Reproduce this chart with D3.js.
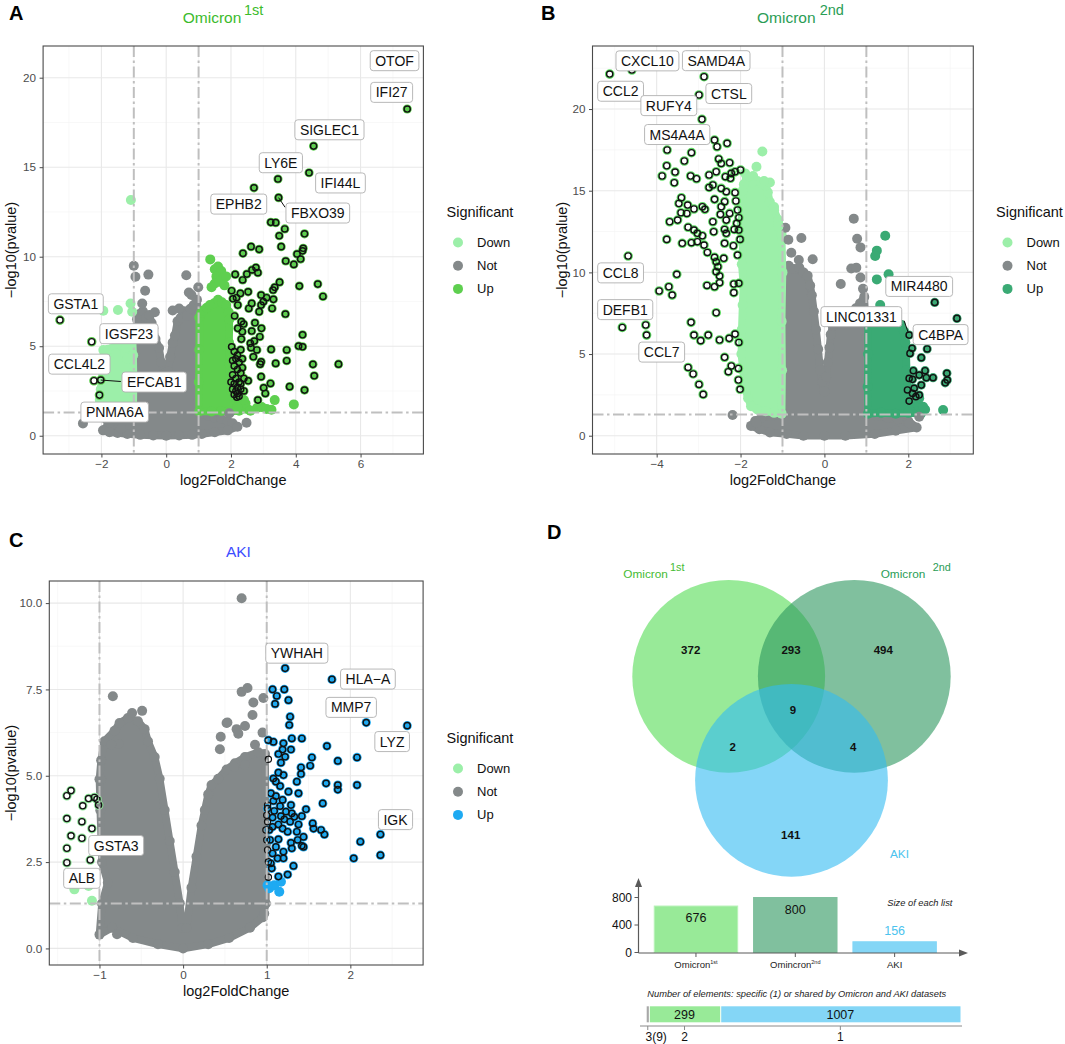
<!DOCTYPE html>
<html>
<head>
<meta charset="utf-8">
<script src="https://cdn.jsdelivr.net/npm/d3@7"></script>
<style>
  body { margin: 0; background: #fff; }
  svg { font-family: "Liberation Sans", Arial, Helvetica, sans-serif; }
</style>
</head>
<body>
<svg id="fig" width="1065" height="1044"></svg>
<script>
// ---------- data ----------
// volcano A (Omicron 1st): dense clouds given as outlines of the point centres
const aNotCloud = [[-1.95,0.3],[-1.75,0.7],[-1.6,0.95],[-1.35,1.0],[-1.2,1.15],[-1.0,1.3],[-0.98,2.4],[-0.99,3.5],[-0.96,4.6],[-0.95,5.5],[-0.9,6.5],[-0.82,6.8],[-0.72,6.95],[-0.62,6.6],[-0.52,6.75],[-0.45,6.3],[-0.4,6.0],[-0.33,5.4],[-0.22,4.9],[-0.15,4.1],[-0.05,3.5],[0.05,3.6],[0.12,4.4],[0.2,5.2],[0.27,5.6],[0.35,6.4],[0.45,6.6],[0.55,6.95],[0.65,6.7],[0.75,7.1],[0.85,7.3],[0.95,7.6],[1.0,6.5],[0.99,4.5],[1.0,2.0],[1.05,1.2],[1.3,1.1],[1.5,1.0],[1.7,0.95],[1.9,0.8],[2.05,0.7],[2.2,0.5],[1.9,0.3],[1.5,0.2],[1.1,0.1],[0.8,0.05],[0.4,0.02],[0,0],[-0.4,0.02],[-0.8,0.05],[-1.2,0.1],[-1.5,0.15],[-1.75,0.2]];
const aDownCloud = [[-2.0,1.4],[-2.05,2.0],[-2.02,2.6],[-1.97,3.6],[-1.94,4.2],[-1.9,4.6],[-1.8,4.8],[-1.7,4.85],[-1.58,4.95],[-1.45,5.1],[-1.35,5.35],[-1.25,5.5],[-1.15,5.55],[-1.05,5.7],[-1.02,4.5],[-1.01,3.0],[-1.02,1.35],[-1.25,1.4],[-1.5,1.35],[-1.75,1.4]];
const aUpCloud = [[1.02,1.35],[1.01,3.0],[1.02,4.8],[1.02,6.6],[1.08,6.85],[1.15,7.0],[1.25,7.15],[1.35,7.3],[1.48,7.4],[1.6,7.6],[1.72,7.45],[1.85,7.3],[1.93,6.9],[1.95,6.5],[1.94,5.2],[1.95,4.0],[1.97,3.2],[2.0,2.5],[2.15,2.1],[2.3,1.8],[2.5,1.5],[2.25,1.4],[2.0,1.35],[1.7,1.38],[1.4,1.35]];
const aNotPts = [[-1.0,9.5],[-0.95,8.88],[-0.55,9.0],[0.62,8.96],[-0.65,8.1],[-0.74,7.39],[0.78,7.86],[0.99,8.29],[0.40,7.11],[-2.57,0.69],[2.48,0.73],[1.95,1.25],[-1.4,0.41],[-1.83,0.88],[0.7,8.0],[-0.35,6.9],[0.2,7.0]];
const aDownPts = [[-1.09,13.17],[-1.49,7.02],[-1.94,6.98],[-1.1,7.39],[-1.05,6.93],[-1.94,4.79],[-1.55,4.6],[-1.25,4.9],[-1.2,4.3]];
const aUpPts = [[1.36,9.85],[1.5,9.3],[1.6,9.45],[1.7,9.2],[1.55,8.9],[1.75,8.8],[1.5,8.5],[1.65,8.6],[1.85,8.9],[1.4,8.3],[1.8,8.4],[2.45,1.8],[2.8,1.55],[2.95,1.6],[3.1,1.5],[3.25,1.45],[3.35,1.99],[3.94,1.75],[2.6,1.4],[2.2,1.6],[2.4,2.0]];
const aUpRing = [[7.44,18.25],[4.55,16.18],[4.41,14.69],[3.45,14.34],[2.71,13.85],[3.47,13.30],[3.23,11.92],[3.38,11.9],[3.66,11.55],[4.27,11.28],[3.49,11.17],[3.55,10.56],[4.23,10.47],[4.21,10.33],[2.62,10.56],[2.87,10.41],[2.37,10.19],[4.04,10.15],[4.15,9.87],[3.69,9.76],[3.94,9.57],[2.77,9.39],[2.65,9.26],[2.83,9.11],[2.49,9.03],[2.13,9.01],[2.36,8.70],[3.50,8.58],[3.35,8.29],[3.30,8.14],[4.11,8.36],[4.68,8.47],[4.84,7.78],[2.02,8.10],[2.53,8.04],[2.29,7.95],[2.17,7.71],[2.93,7.86],[3.10,7.71],[3.00,7.49],[2.06,7.65],[2.21,7.30],[3.31,7.62],[3.27,7.11],[2.64,7.39],[2.55,7.11],[2.93,7.30],[2.87,6.93],[3.68,6.80],[2.11,6.69],[2.32,6.37],[2.39,6.24],[2.74,6.31],[2.21,6.00],[2.35,5.81],[2.64,5.85],[2.94,6.00],[4.21,5.64],[2.32,5.40],[2.72,5.29],[2.89,5.53],[2.02,4.97],[2.60,5.16],[2.62,4.92],[2.80,4.79],[4.09,5.01],[4.21,4.97],[3.24,4.82],[3.72,4.79],[3.72,4.19],[2.69,4.41],[2.93,4.13],[2.90,4.00],[3.38,4.04],[4.53,3.99],[5.32,4.00],[4.57,3.35],[2.93,3.30],[2.53,3.07],[3.22,2.92],[3.01,2.68],[3.06,2.36],[2.83,1.99],[3.81,2.74],[4.27,2.55],
  [2.1,4.7],[2.2,4.5],[2.15,4.3],[2.25,4.1],[2.1,3.9],[2.2,3.7],[2.3,3.5],[2.05,3.4],[2.15,3.2],[2.25,3.0],[2.1,2.9],[2.2,2.7],[2.3,2.6],[2.15,2.5],[2.05,2.6],[2.2,2.35],[2.25,2.2],[2.1,2.3],[2.3,4.8],[2.35,4.3],[2.35,3.8],[2.4,3.2],[2.0,3.0],[2.05,4.2],[2.3,2.9],[2.4,2.5],[2.18,2.15]];
const aDownRing = [[-3.28,6.46],[-2.30,5.25],[-2.23,3.07],[-2.02,3.11],[-2.06,2.27]];
const aLabels = [["OTOF",7.05,20.95],["IFI27",6.96,19.18],["SIGLEC1",5.04,17.09],["LY6E",3.54,15.25],["IFI44L",5.38,14.12],["EPHB2",2.24,12.94],["FBXO39",4.68,12.44],["GSTA1",-2.79,7.37],["IGSF23",-1.15,5.70],["CCL4L2",-2.68,4.0],["EFCAB1",-0.37,3.0],["PNMA6A",-1.59,1.32]];
const aLeaders = [[[3.47,13.3],[3.67,12.76]],[[-2.02,3.11],[-1.40,3.03]]];

// volcano B (Omicron 2nd)
const bNotCloud = [[-1.0,1.3],[-1.01,4.0],[-0.99,7.0],[-1.0,10.2],[-0.93,10.35],[-0.85,10.4],[-0.72,10.2],[-0.6,10.3],[-0.5,10.0],[-0.4,9.8],[-0.34,9.2],[-0.3,8.6],[-0.25,7.6],[-0.2,6.5],[-0.15,5.3],[-0.1,4.0],[-0.05,3.3],[0.0,2.7],[0.04,3.6],[0.08,4.5],[0.12,5.4],[0.15,6.2],[0.2,6.7],[0.25,7.0],[0.38,7.2],[0.5,7.3],[0.62,7.5],[0.75,7.8],[0.85,8.1],[0.95,8.5],[1.0,6.0],[0.99,3.5],[1.0,1.3],[1.25,1.2],[1.5,1.1],[1.75,1.0],[2.0,0.9],[2.2,0.5],[1.7,0.3],[1.2,0.1],[0.5,0],[0,0],[-0.5,0],[-0.9,0.1],[-1.3,0.2],[-1.55,0.4],[-1.75,0.6],[-1.65,0.9],[-1.5,1.1],[-1.25,1.2]];
const bDownCloud = [[-1.02,1.35],[-1.01,4.0],[-1.02,7.0],[-1.0,10.0],[-1.02,12.3],[-1.06,12.8],[-1.1,13.2],[-1.2,13.8],[-1.3,14.3],[-1.35,14.9],[-1.4,15.3],[-1.5,15.45],[-1.6,15.6],[-1.72,15.5],[-1.85,15.8],[-1.92,15.4],[-1.95,15.0],[-1.97,14.0],[-1.97,13.0],[-1.94,11.8],[-1.97,10.5],[-1.93,9.2],[-1.95,8.0],[-1.97,6.5],[-1.98,5.0],[-1.94,4.0],[-1.9,3.0],[-1.82,2.3],[-1.75,1.8],[-1.6,1.6],[-1.4,1.5],[-1.2,1.4]];
const bUpCloud = [[1.04,1.35],[1.03,3.0],[1.04,5.0],[1.04,6.9],[1.12,7.1],[1.2,7.3],[1.32,7.4],[1.45,7.5],[1.58,7.3],[1.7,7.1],[1.82,6.8],[1.9,6.4],[1.93,5.7],[1.95,5.0],[1.96,4.0],[1.98,3.0],[2.03,2.5],[2.1,2.0],[2.25,1.8],[2.4,1.6],[2.3,1.35],[2.0,1.4],[1.7,1.35],[1.35,1.4]];
const bNotPts = [[-2.19,1.27],[-1.62,0.76],[-0.93,12.73],[-0.86,12.0],[-0.55,12.1],[-0.79,11.2],[-0.61,10.76],[-0.28,10.8],[0.70,13.29],[0.78,12.06],[0.86,11.53],[0.64,10.24],[0.76,10.29],[0.86,9.69],[0.39,9.29],[0.92,9.0],[2.02,0.76],[2.26,1.16]];
const bDownPts = [[-1.48,17.4],[-1.62,16.47],[-1.89,16.06],[-1.3,15.5],[-1.44,15.6],[-1.7,15.9],[-1.2,14.0],[-1.1,12.8]];
const bUpPts = [[1.45,12.24],[1.25,11.33],[1.21,11.0],[1.53,9.88],[1.25,9.57],[1.33,8.0],[2.83,1.57],[2.35,1.78],[2.26,2.29]];
const bDownRing = [[-5.12,22.14],[-4.59,22.39],[-2.87,21.98],[-2.99,20.86],[-2.92,19.37],[-2.62,18.1],[-2.56,17.69],[-2.32,17.9],[-3.75,17.49],[-3.17,17.33],[-3.34,16.82],[-3.76,16.53],[-3.56,16.14],[-3.87,15.9],[-3.19,15.9],[-3.05,15.73],[-3.58,15.49],[-2.52,16.94],[-2.46,16.67],[-2.26,16.71],[-2.58,16.16],[-2.75,15.96],[-2.36,15.86],[-2.22,16.06],[-2.13,16.16],[-2.0,16.27],[-2.24,15.76],[-2.66,15.35],[-2.75,15.2],[-2.46,15.14],[-2.34,14.94],[-2.13,14.88],[-3.41,14.57],[-3.47,14.22],[-3.26,14.12],[-2.62,14.47],[-2.38,14.33],[-2.11,14.37],[-2.07,13.82],[-3.11,13.88],[-2.91,14.02],[-2.85,13.86],[-3.42,13.65],[-2.46,14.02],[-2.26,13.61],[-2.04,13.35],[-3.28,13.61],[-2.48,13.55],[-3.69,13.1],[-3.5,13.2],[-2.66,13.1],[-2.34,13.2],[-2.09,13.0],[-3.25,12.76],[-3.11,12.59],[-3.03,12.39],[-2.91,12.24],[-2.64,12.49],[-2.38,12.63],[-2.34,12.39],[-2.15,12.63],[-2.04,12.59],[-3.76,12.02],[-3.39,11.78],[-3.17,11.82],[-3.03,11.88],[-2.87,11.67],[-2.38,11.78],[-2.17,11.63],[-2.01,12.02],[-2.79,11.22],[-2.62,10.92],[-2.58,10.65],[-2.40,10.86],[-2.07,11.06],[-2.54,10.35],[-2.58,10.04],[-2.5,9.78],[-2.80,9.2],[-2.62,9.12],[-2.50,9.37],[-2.16,9.29],[-2.04,9.33],[-2.16,8.76],[-4.68,11.0],[-3.52,9.88],[-3.94,8.86],[-3.71,9.12],[-3.63,8.61],[-2.58,7.53],[-4.82,6.63],[-4.26,6.78],[-4.24,6.16],[-3.18,6.94],[-3.11,6.16],[-2.95,5.82],[-2.77,6.16],[-2.50,5.86],[-2.27,5.96],[-2.13,6.22],[-2.04,5.71],[-2.38,4.8],[-2.22,4.27],[-2.05,4.12],[-2.29,3.92],[-3.25,4.18],[-3.13,3.78],[-2.99,3.14],[-2.89,2.53],[-2.05,3.41],[-2.01,2.84]];
const bUpRing = [[2.02,6.16],[2.63,8.16],[3.16,7.18],[2.09,5.35],[2.45,5.31],[2.31,4.78],[2.04,5.04],[2.12,3.98],[2.40,3.98],[2.02,3.51],[2.10,3.45],[2.26,3.71],[2.43,3.55],[2.59,3.55],[2.92,3.82],[2.88,3.24],[2.93,3.41],[2.31,3.10],[1.98,2.80],[2.14,2.90],[2.26,2.49],[2.18,2.39],[2.02,2.12],[2.10,2.59]];
const bLabels = [["CXCL10",-4.22,22.95],["SAMD4A",-2.58,22.96],["CCL2",-4.86,21.09],["RUFY4",-3.71,20.21],["CTSL",-2.28,20.95],["MS4A4A",-3.51,18.44],["CCL8",-4.86,9.97],["DEFB1",-4.75,7.72],["CCL7",-3.88,5.12],["MIR4480",2.26,9.14],["LINC01331",0.88,7.29],["C4BPA",2.77,6.19]];
const bLeaders = [[[1.90,7.04],[2.0,6.3]]];

// volcano C (AKI)
const cNotCloud = [[-1.0,0.4],[-0.97,1.3],[-0.9,1.9],[-0.97,2.5],[-0.99,4.0],[-1.0,4.9],[-0.98,5.45],[-0.94,6.0],[-0.82,6.3],[-0.76,6.53],[-0.66,6.67],[-0.54,6.58],[-0.46,6.35],[-0.42,6.0],[-0.34,5.54],[-0.28,4.91],[-0.22,4.01],[-0.16,3.11],[-0.10,2.21],[-0.04,1.31],[-0.01,0.59],[0.04,0.59],[0.10,1.76],[0.16,2.66],[0.22,3.56],[0.26,4.01],[0.30,4.46],[0.34,4.73],[0.42,4.91],[0.52,5.18],[0.62,5.36],[0.74,5.54],[0.90,5.68],[0.98,5.63],[0.99,3.0],[0.99,1.3],[0.95,0.9],[0.8,0.6],[0.55,0.3],[0.3,0.12],[0,0],[-0.3,0.12],[-0.6,0.3],[-0.85,0.6]];
const cNotPts = [[0.70,10.14],[0.70,7.43],[0.77,7.54],[0.84,7.12],[0.96,7.25],[0.83,6.76],[0.52,6.53],[0.64,6.35],[0.66,6.22],[0.74,6.44],[0.86,5.9],[0.44,5.77],[0.53,6.54],[0.45,6.13],[0.95,6.25],[0.61,5.26],[0.74,5.31],[-0.84,7.3],[-0.61,6.82],[-0.49,6.88],[-0.77,5.92],[-0.86,5.9],[-0.79,0.41],[0.97,1.01],[-0.98,4.9]];
const cDownPts = [[-1.30,1.71],[-1.13,1.81],[-1.09,1.38]];
const cUpPts = [[1.03,1.74],[1.09,1.83],[1.15,1.64],[1.17,1.93],[1.01,1.83]];
const cUpRing = [[1.22,8.11],[1.78,7.79],[1.07,7.5],[1.21,7.5],[1.12,7.31],[1.26,7.19],[1.10,7.08],[1.28,6.71],[1.27,6.47],[2.19,6.54],[2.68,6.45],[1.02,6.03],[1.08,5.98],[1.42,6.08],[1.20,5.94],[1.30,6.08],[1.72,5.86],[1.29,5.76],[1.19,5.76],[1.14,5.63],[1.22,5.55],[1.54,5.53],[2.08,5.53],[1.85,5.43],[1.17,5.38],[1.52,5.29],[1.41,5.24],[1.14,5.09],[1.20,5.02],[1.41,5.05],[1.08,4.92],[1.36,4.83],[1.11,4.83],[1.71,4.78],[1.85,4.73],[2.08,4.73],[1.85,4.6],[1.16,4.7],[1.26,4.54],[1.38,4.49],[1.05,4.49],[1.11,4.41],[1.19,4.30],[1.08,4.27],[1.67,4.20],[1.29,4.15],[1.16,4.12],[1.47,4.03],[1.01,4.05],[1.09,3.98],[1.23,3.96],[1.30,3.91],[1.42,3.83],[1.17,3.83],[1.07,3.79],[1.33,3.81],[1.21,3.74],[1.28,3.67],[1.55,3.62],[1.38,3.59],[1.14,3.59],[1.07,3.52],[1.19,3.47],[1.56,3.47],[1.69,3.30],[2.36,3.30],[1.36,3.38],[1.25,3.38],[1.03,3.43],[1.65,3.43],[1.44,3.23],[1.14,3.16],[1.04,3.14],[1.37,3.14],[2.12,3.09],[1.29,3.06],[1.42,2.97],[1.44,2.94],[1.30,2.90],[1.11,2.94],[1.20,2.80],[1.07,2.75],[2.36,2.70],[1.20,2.61],[2.04,2.61],[1.13,2.61],[1.32,2.39],[1.06,2.32],[1.25,2.14],[1.14,2.08],[1.05,2.46]];
const cNotRing = [[1.02,5.48],[1.01,4.15],[1.0,3.86],[0.99,3.43],[1.01,2.85],[1.02,2.51],[1.02,2.06],[1.0,3.14],[1.01,3.67]];
const cDownRing = [[-1.34,4.57],[-1.39,4.42],[-1.13,4.34],[-1.06,4.37],[-1.03,4.32],[-1.01,4.15],[-1.20,4.13],[-1.39,3.76],[-1.21,3.67],[-1.09,3.47],[-1.34,3.26],[-1.21,3.19],[-1.39,2.90],[-1.11,2.56],[-1.39,2.48]];
const cLabels = [["YWHAH",1.36,8.55],["HLA\u2212A",2.21,7.80],["MMP7",2.01,6.98],["LYZ",2.50,5.99],["IGK",2.54,3.73],["GSTA3",-0.80,2.98],["ALB",-1.21,2.03]];

// panel D
const vennRegions = [["a",372],["ab",293],["b",494],["abc",9],["ac",2],["bc",4],["c",141]];
const listNames = ["Omicron", "Omincron", "AKI"];
const listSups = ["1st", "2nd", ""];
const listSizes = [676, 800, 156];
const sharedNames = ["3(9)", "2", "1"];
const sharedCounts = [9, 299, 1007];
const groupLevels = ["Down", "Not", "Up"];

// ---------- drawing ----------
const svg = d3.select("#fig");
const defs = svg.append("defs");
const NOT = "#84898a", DOWN = "#9cefa9";
const PR = 5;

function panel(p) {
  const [L, Rt, T, B] = p.box;
  const x = d3.scaleLinear().domain(p.xDom).range([L, Rt]);
  const y = d3.scaleLinear().domain(p.yDom).range([B, T]);
  const g = svg.append("g");
  defs.append("clipPath").attr("id", "clip" + p.id)
    .append("rect").attr("x", L).attr("y", T).attr("width", Rt - L).attr("height", B - T);

  // grid
  const grid = g.append("g");
  grid.selectAll(".mx").data(p.xMinor).join("line")
    .attr("x1", d => x(d)).attr("x2", d => x(d)).attr("y1", T).attr("y2", B)
    .attr("stroke", "#f3f3f3").attr("stroke-width", 0.6);
  grid.selectAll(".my").data(p.yMinor).join("line")
    .attr("y1", d => y(d)).attr("y2", d => y(d)).attr("x1", L).attr("x2", Rt)
    .attr("stroke", "#f3f3f3").attr("stroke-width", 0.6);
  grid.selectAll(".Mx").data(p.xTicks).join("line")
    .attr("x1", d => x(d)).attr("x2", d => x(d)).attr("y1", T).attr("y2", B)
    .attr("stroke", "#e8e8e8").attr("stroke-width", 1.1);
  grid.selectAll(".My").data(p.yTicks).join("line")
    .attr("y1", d => y(d)).attr("y2", d => y(d)).attr("x1", L).attr("x2", Rt)
    .attr("stroke", "#e8e8e8").attr("stroke-width", 1.1);

  const body = g.append("g").attr("clip-path", `url(#clip${p.id})`);
  const outline = d3.line().x(d => x(d[0])).y(d => y(d[1])).curve(d3.curveLinearClosed);

  // dense clouds: filled outline, with a point drawn on every outline vertex
  [[p.notCloud, NOT], [p.downCloud, DOWN], [p.upCloud, p.up]].forEach(([pts, col]) => {
    if (!pts) return;
    const cg = body.append("g");
    cg.append("path").attr("d", outline(pts))
      .attr("fill", col).attr("stroke", col)
      .attr("stroke-width", PR * 2 - 2.4).attr("stroke-linejoin", "round");
    cg.selectAll("circle").data(pts).join("circle")
      .attr("cx", d => x(d[0])).attr("cy", d => y(d[1])).attr("r", PR).attr("fill", col);
  });

  [[p.notPts, NOT], [p.downPts, DOWN], [p.upPts, p.up]].forEach(([pts, col]) => {
    body.append("g").selectAll("circle").data(pts || []).join("circle")
      .attr("cx", d => x(d[0])).attr("cy", d => y(d[1])).attr("r", PR).attr("fill", col);
  });

  // highlighted genes: filled with a black ring
  const up = body.append("g");
  up.selectAll(".h").data(p.upRing || []).join("circle")
    .attr("cx", d => x(d[0])).attr("cy", d => y(d[1])).attr("r", 4.6).attr("fill", p.up);
  up.selectAll(".k").data(p.upRing || []).join("circle")
    .attr("cx", d => x(d[0])).attr("cy", d => y(d[1])).attr("r", 3.1)
    .attr("fill", "none").attr("stroke", "#111").attr("stroke-width", 1.45);
  // hollow rings with a coloured halo
  const dn = body.append("g");
  dn.selectAll(".h").data(p.downRing || []).join("circle")
    .attr("cx", d => x(d[0])).attr("cy", d => y(d[1])).attr("r", 4.0)
    .attr("fill", "none").attr("stroke", p.halo).attr("stroke-width", 1.6);
  dn.selectAll(".k").data(p.downRing || []).join("circle")
    .attr("cx", d => x(d[0])).attr("cy", d => y(d[1])).attr("r", 3.1)
    .attr("fill", "none").attr("stroke", "#111").attr("stroke-width", 1.35);
  body.append("g").selectAll("circle").data(p.notRing || []).join("circle")
    .attr("cx", d => x(d[0])).attr("cy", d => y(d[1])).attr("r", 3.1)
    .attr("fill", "none").attr("stroke", "#111").attr("stroke-width", 1.2);

  // thresholds
  const dash = "11,3.5,2.5,3.5";
  body.selectAll(".vx").data([-1, 1]).join("line")
    .attr("x1", d => x(d)).attr("x2", d => x(d)).attr("y1", T).attr("y2", B)
    .attr("stroke", "#bfbfbf").attr("stroke-width", 2).attr("stroke-dasharray", dash);
  body.append("line").attr("x1", L).attr("x2", Rt).attr("y1", y(1.3)).attr("y2", y(1.3))
    .attr("stroke", "#bfbfbf").attr("stroke-width", 2).attr("stroke-dasharray", dash);

  // leader segments
  g.selectAll(".ld").data(p.leaders || []).join("line")
    .attr("x1", d => x(d[0][0])).attr("y1", d => y(d[0][1]))
    .attr("x2", d => x(d[1][0])).attr("y2", d => y(d[1][1]))
    .attr("stroke", "#111").attr("stroke-width", 1);

  // gene labels
  p.labels.forEach(([name, lx, ly]) => {
    const cx = x(lx), cy = y(ly);
    const lg = g.append("g");
    const rect = lg.append("rect");
    const t = lg.append("text").attr("x", cx).attr("y", cy + 5)
      .attr("text-anchor", "middle").attr("font-size", 14).attr("fill", "#111").text(name);
    const w = t.node().getComputedTextLength();
    rect.attr("x", cx - w / 2 - 5).attr("y", cy - 10).attr("width", w + 10).attr("height", 20)
      .attr("rx", 3).attr("fill", "#fff").attr("stroke", "#b0b0b0").attr("stroke-width", 0.9);
  });

  g.append("rect").attr("x", L).attr("y", T).attr("width", Rt - L).attr("height", B - T)
    .attr("fill", "none").attr("stroke", "#4a4a4a").attr("stroke-width", 1.1);

  // axes
  const ax = g.append("g").attr("transform", `translate(0,${B})`)
    .call(d3.axisBottom(x).tickValues(p.xTicks).tickSize(3.5).tickPadding(2.5).tickFormat(p.xFmt));
  const ay = g.append("g").attr("transform", `translate(${L},0)`)
    .call(d3.axisLeft(y).tickValues(p.yTicks).tickSize(3.5).tickPadding(3.5).tickFormat(p.yFmt));
  [ax, ay].forEach(a => {
    a.select(".domain").remove();
    a.attr("font-family", null).attr("font-size", 11.7);
    a.selectAll("line").attr("stroke", "#4a4a4a");
    a.selectAll("text").attr("fill", "#4d4d4d");
  });

  g.append("text").attr("x", (L + Rt) / 2).attr("y", B + 31).attr("text-anchor", "middle")
    .attr("font-size", 14.5).attr("fill", "#111").text("log2FoldChange");
  g.append("text").attr("transform", `translate(${p.yTitleX},${(T + B) / 2}) rotate(-90)`)
    .attr("text-anchor", "middle").attr("font-size", 14.5).attr("fill", "#111").text("\u2212log10(pvalue)");

  // legend
  const lg = g.append("g");
  lg.append("text").attr("x", p.legX).attr("y", p.legY).attr("font-size", 14.5).attr("fill", "#111").text("Significant");
  const cols = [DOWN, NOT, p.up];
  groupLevels.forEach((lev, i) => {
    const yy = p.legY + 25.5 + i * 23.2;
    lg.append("circle").attr("cx", p.legX + 11.5).attr("cy", yy).attr("r", 5).attr("fill", cols[i]);
    lg.append("text").attr("x", p.legX + 30.5).attr("y", yy + 4.5).attr("font-size", 13).attr("fill", "#111").text(lev);
  });
}

const fmtInt = d3.format("d"), fmt1 = d3.format(".1f");

panel({
  id: "A", box: [43.1, 423.4, 46, 454], xDom: [-3.80, 7.94], yDom: [-1.02, 21.77],
  xTicks: [-2, 0, 2, 4, 6], xMinor: [-3, -1, 1, 3, 5, 7], yTicks: [0, 5, 10, 15, 20], yMinor: [2.5, 7.5, 12.5, 17.5],
  xFmt: fmtInt, yFmt: fmtInt, up: "#5ecf4f", halo: "#5ecf4f",
  notCloud: aNotCloud, downCloud: aDownCloud, upCloud: aUpCloud,
  notPts: aNotPts, downPts: aDownPts, upPts: aUpPts, upRing: aUpRing, downRing: aDownRing,
  labels: aLabels, leaders: aLeaders, yTitleX: 16, legX: 446.5, legY: 217
});
panel({
  id: "B", box: [592.5, 973.3, 46, 454], xDom: [-5.53, 3.55], yDom: [-1.12, 23.86],
  xTicks: [-4, -2, 0, 2], xMinor: [-5, -3, -1, 1, 3], yTicks: [0, 5, 10, 15, 20], yMinor: [2.5, 7.5, 12.5, 17.5, 22.5],
  xFmt: fmtInt, yFmt: fmtInt, up: "#3aaa74", halo: "#5fdc64",
  notCloud: bNotCloud, downCloud: bDownCloud, upCloud: bUpCloud,
  notPts: bNotPts, downPts: bDownPts, upPts: bUpPts, upRing: bUpRing, downRing: bDownRing,
  labels: bLabels, leaders: bLeaders, yTitleX: 567, legX: 996, legY: 217
});
panel({
  id: "C", box: [49.3, 423.1, 581, 965], xDom: [-1.60, 2.87], yDom: [-0.48, 10.64],
  xTicks: [-1, 0, 1, 2], xMinor: [-1.5, -0.5, 0.5, 1.5, 2.5], yTicks: [0, 2.5, 5, 7.5, 10], yMinor: [1.25, 3.75, 6.25, 8.75],
  xFmt: fmtInt, yFmt: fmt1, up: "#1eaaf2", halo: "#8fe89a",
  notCloud: cNotCloud, notPts: cNotPts, downPts: cDownPts, upPts: cUpPts,
  upRing: cUpRing, downRing: cDownRing, notRing: cNotRing,
  labels: cLabels, yTitleX: 16, legX: 446.5, legY: 743
});

// titles and panel letters
function title(x0, base, sup, supX, col, y0, fs) {
  svg.append("text").attr("x", x0).attr("y", y0).attr("font-size", fs).attr("fill", col).text(base);
  if (sup) svg.append("text").attr("x", supX).attr("y", y0 - 7.5).attr("font-size", fs - 1).attr("fill", col).text(sup);
}
title(182.8, "Omicron", "1st", 244, "#3cbb2c", 22.5, 15.5);
title(757, "Omicron", "2nd", 819.7, "#2a9d55", 22.5, 15.5);
title(225.9, "AKI", "", 0, "#3c4cff", 556.7, 15.5);
[["A", 9, 20], ["B", 541, 20], ["C", 9, 547], ["D", 547, 539]].forEach(([t, xx, yy]) => {
  svg.append("text").attr("x", xx).attr("y", yy).attr("font-size", 20).attr("font-weight", "bold").attr("fill", "#000").text(t);
});

// ---------- Venn ----------
const venn = svg.append("g");
const circ = [
  { cx: 728.7, cy: 676.3, fill: "#53dc53" },
  { cx: 854.3, cy: 676.3, fill: "#2b965d" },
  { cx: 791.5, cy: 780.3, fill: "#32bbf2" }
];
venn.selectAll("circle").data(circ).join("circle")
  .attr("cx", d => d.cx).attr("cy", d => d.cy).attr("r", 96.4)
  .attr("fill", d => d.fill).attr("fill-opacity", 0.6);
const regionPos = { a: [690.7, 650], ab: [791, 650], b: [883.3, 650], abc: [793, 710], ac: [732.7, 746.7], bc: [853.3, 746.7], c: [790.7, 835] };
venn.selectAll("text.n").data(vennRegions).join("text")
  .attr("x", d => regionPos[d[0]][0]).attr("y", d => regionPos[d[0]][1] + 4.2)
  .attr("text-anchor", "middle").attr("font-size", 11.5).attr("font-weight", "bold").attr("fill", "#111")
  .text(d => d[1]);
title(623.3, "Omicron", "1st", 670, "#44bb33", 578, 11.8);
title(880.7, "Omicron", "2nd", 932.7, "#2a9d55", 578, 11.8);
title(890, "AKI", "", 0, "#4cc3ee", 858, 11.8);

// ---------- list sizes bar chart ----------
const bars = svg.append("g");
const bx = d3.scaleBand().domain(listNames).range([646.3, 944.3]).paddingInner(0.16).paddingOuter(0.08);
const by = d3.scaleLinear().domain([0, 800]).range([952.5, 897.5]);
const barFill = ["#98ea98", "#80c09e", "#84d6f6"];
const barEdge = ["#b8f2b8", "#80c09e", "#84d6f6"];
bars.selectAll("rect").data(listSizes).join("rect")
  .attr("x", (d, i) => bx(listNames[i])).attr("width", bx.bandwidth())
  .attr("y", d => by(d)).attr("height", d => by(0) - by(d))
  .attr("fill", (d, i) => barFill[i]).attr("stroke", (d, i) => barEdge[i]).attr("stroke-width", 1);
bars.selectAll("text.v").data(listSizes).join("text")
  .attr("x", (d, i) => bx(listNames[i]) + bx.bandwidth() / 2)
  .attr("y", (d, i) => i === 2 ? by(d) - 6.5 : by(d) + 16)
  .attr("text-anchor", "middle").attr("font-size", 12.5)
  .attr("fill", (d, i) => i === 2 ? "#4cc3ee" : "#111").text(d => d);
const axc = "#5a5a5a";
bars.append("line").attr("x1", 638.5).attr("x2", 638.5).attr("y1", 953).attr("y2", 884).attr("stroke", axc).attr("stroke-width", 1.2);
bars.append("path").attr("d", "M638.5,878 L635,887 L642,887 Z").attr("fill", axc);
bars.append("line").attr("x1", 638.5).attr("x2", 962).attr("y1", 953).attr("y2", 953).attr("stroke", axc).attr("stroke-width", 1.2);
bars.append("path").attr("d", "M968,953 L959,949.5 L959,956.5 Z").attr("fill", axc);
bars.selectAll("line.t").data([0, 400, 800]).join("line")
  .attr("x1", 634.5).attr("x2", 638.5).attr("y1", d => by(d)).attr("y2", d => by(d)).attr("stroke", axc);
bars.selectAll("text.t").data([0, 400, 800]).join("text")
  .attr("x", 632).attr("y", d => by(d) + 4.3).attr("text-anchor", "end").attr("font-size", 12).attr("fill", "#111").text(d => d);
bars.selectAll("line.c").data(listNames).join("line")
  .attr("x1", d => bx(d) + bx.bandwidth() / 2).attr("x2", d => bx(d) + bx.bandwidth() / 2)
  .attr("y1", 953).attr("y2", 957).attr("stroke", axc);
listNames.forEach((nm, i) => {
  const t = bars.append("text").attr("x", bx(nm) + bx.bandwidth() / 2).attr("y", 968)
    .attr("text-anchor", "middle").attr("font-size", 9.5).attr("fill", "#222");
  t.append("tspan").text(nm);
  if (listSups[i]) t.append("tspan").attr("font-size", 5.5).attr("dy", -4).text(listSups[i]);
});
bars.append("text").attr("x", 887.3).attr("y", 906).attr("font-size", 9.3).attr("font-style", "italic").attr("fill", "#222").text("Size of each list");

// ---------- specific / shared bar ----------
const sh = svg.append("g");
sh.append("text").attr("x", 647.3).attr("y", 996.5).attr("font-size", 9.3).attr("font-style", "italic").attr("fill", "#222")
  .text("Number of elements: specific (1) or shared by Omicron and AKI datasets");
const sx = d3.scaleLinear().domain([0, d3.sum(sharedCounts)]).range([646.7, 960.5]);
const starts = d3.cumsum([0].concat(sharedCounts.slice(0, -1)));
const shFill = ["#a8a8a8", "#98ea98", "#84d6f6"];
sh.selectAll("rect").data(sharedCounts).join("rect")
  .attr("x", (d, i) => sx(starts[i]) + (i ? 1 : 0)).attr("width", (d, i) => Math.max(1.6, sx(starts[i] + d) - sx(starts[i]) - (i ? 1 : 0)))
  .attr("y", 1006.3).attr("height", 16).attr("fill", (d, i) => shFill[i]);
sh.selectAll("text.v").data(sharedCounts).join("text")
  .filter((d, i) => i > 0)
  .attr("x", (d, i) => sx(starts[i + 1] + d / 2)).attr("y", 1019)
  .attr("text-anchor", "middle").attr("font-size", 12.5).attr("fill", "#111").text(d => d);
sh.append("line").attr("x1", 640).attr("x2", 962).attr("y1", 1026).attr("y2", 1026).attr("stroke", "#8a8a8a").attr("stroke-width", 1);
sh.selectAll("line.t").data(sharedCounts).join("line")
  .attr("x1", (d, i) => sx(starts[i] + d / 2)).attr("x2", (d, i) => sx(starts[i] + d / 2))
  .attr("y1", 1026).attr("y2", 1030).attr("stroke", "#8a8a8a");
sh.selectAll("text.n").data(sharedNames).join("text")
  .attr("x", (d, i) => i === 0 ? 645.5 : sx(starts[i] + sharedCounts[i] / 2))
  .attr("y", 1040.5).attr("text-anchor", (d, i) => i === 0 ? "start" : "middle")
  .attr("font-size", 12).attr("fill", "#111").text(d => d);
</script>
</body>
</html>
